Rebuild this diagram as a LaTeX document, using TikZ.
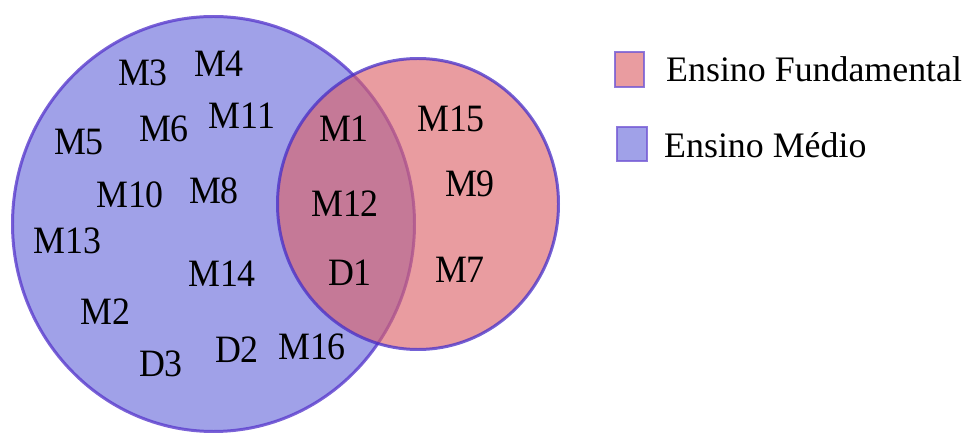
\documentclass[tikz,border=0pt]{standalone}
\usepackage{fontspec}
\setmainfont{Liberation Serif}
\definecolor{medioFill}{RGB}{160,161,232}
\definecolor{fundFill}{RGB}{220,98,105}
\definecolor{ringLine}{RGB}{90,60,205}
\definecolor{ringDark}{RGB}{70,45,200}
\tikzset{
  setlabel/.style={anchor=base, inner sep=0pt, font=\fontsize{36}{40}\selectfont},
  legendtext/.style={anchor=base west, inner sep=0pt, font=\fontsize{36}{40}\selectfont},
  legendkey/.style={draw=ringLine!85, line width=1.6pt, draw opacity=0.8},
}
\newcommand{\tall}[1]{\scalebox{1}[1.08]{#1}}
\begin{document}
\begin{tikzpicture}[x=1bp, y=-1bp]
  \useasboundingbox (0,0) rectangle (963,434);
  % Ensino Medio set
  \path[fill=medioFill, draw=ringLine, draw opacity=0.8, line width=3pt]
    (213.5,224) ellipse [x radius=201, y radius=207.5];
  % Ensino Fundamental set, drawn translucent on top
  \path[fill=fundFill, fill opacity=0.63, draw=ringDark, draw opacity=0.75, line width=3pt]
    (418,204) ellipse [x radius=140.5, y radius=145.5];

  % labels of the Ensino Medio part
  \node[setlabel] (m3)  at (143,86)  {\tall{M3}};
  \node[setlabel] (m4)  at (219,77)  {\tall{M4}};
  \node[setlabel] (m11) at (242,129) {\tall{M11}};
  \node[setlabel] (m6)  at (164,142) {\tall{M6}};
  \node[setlabel] (m5)  at (79,155)  {\tall{M5}};
  \node[setlabel] (m10) at (130,208) {\tall{M10}};
  \node[setlabel] (m8)  at (214,204) {\tall{M8}};
  \node[setlabel] (m13) at (67.5,254) {\tall{M13}};
  \node[setlabel] (m14) at (222,287) {\tall{M14}};
  \node[setlabel] (m2)  at (105.5,325) {\tall{M2}};
  \node[setlabel] (d3)  at (161,377) {\tall{D3}};
  \node[setlabel] (d2)  at (237,363) {\tall{D2}};
  \node[setlabel] (m16) at (312,360) {\tall{M16}};
  % labels of the intersection
  \node[setlabel] (m1)  at (344,142) {\tall{M1}};
  \node[setlabel] (m12) at (345,217) {\tall{M12}};
  \node[setlabel] (d1)  at (350,286) {\tall{D1}};
  % labels of the Ensino Fundamental part
  \node[setlabel] (m15) at (451,132) {\tall{M15}};
  \node[setlabel] (m9)  at (470,197) {\tall{M9}};
  \node[setlabel] (m7)  at (460,283) {\tall{M7}};

  % legend
  \path[legendkey, fill=fundFill, fill opacity=0.63] (615,52) rectangle (644,87);
  \path[legendkey, fill=medioFill] (617,127) rectangle (647,161);
  \node[legendtext] (lf) at (666,82)  {Ensino Fundamental};
  \node[legendtext] (lm) at (664,158) {Ensino Médio};
\end{tikzpicture}
\end{document}
